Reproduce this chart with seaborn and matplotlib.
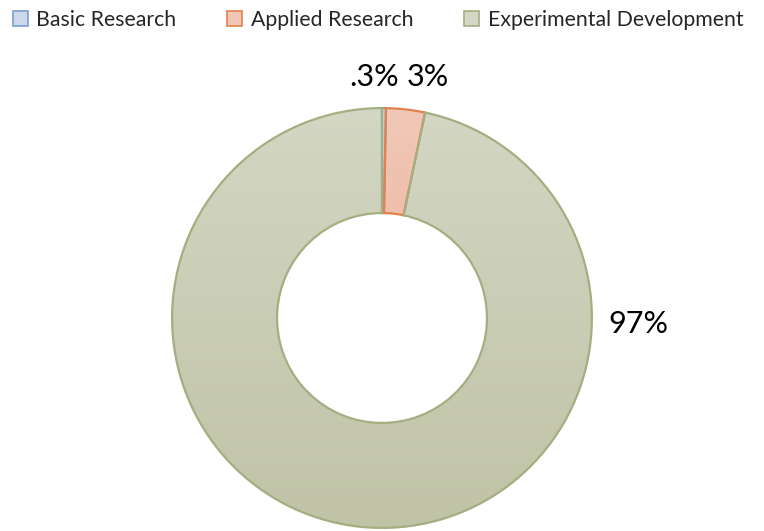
import matplotlib
matplotlib.use("Agg")
import matplotlib.pyplot as plt
import matplotlib.patches as mpatches
from matplotlib.colors import LinearSegmentedColormap
import numpy as np
import seaborn as sns

# %%
categories = ["Basic Research", "Applied Research", "Experimental Development"]
shares = [0.3, 3, 97]
share_labels = [".3%", "3%", "97%"]

fill_top = ["#cbd9eb", "#f1c8b7", "#d3d7c3"]
fill_bottom = ["#b3c7e1", "#e9a48a", "#c0c3a6"]
edge_colors = ["#7b9fcd", "#e3804c", "#a4ae80"]

# where each value label sits (axes data units, pie radius = 1)
label_pos = [(-0.04, 1.15), (0.22, 1.15), (1.22, -0.03)]

# %%
sns.set_theme(style="white")
plt.rcParams["font.family"] = ["Lato", "DejaVu Sans"]

fig = plt.figure(figsize=(7.64, 5.31), dpi=100)
ax = fig.add_axes([170 / 764, 1 / 531, 424 / 764, 424 / 531])

wedges, _ = ax.pie(
    shares,
    startangle=90,
    counterclock=False,
    radius=1,
    wedgeprops=dict(width=0.5, linewidth=1.6),
    colors=fill_bottom,
)

grad = np.linspace(0, 1, 256).reshape(-1, 1)
for w, top, bot, ec in zip(wedges, fill_top, fill_bottom, edge_colors):
    w.set_edgecolor(ec)
    w.set_facecolor("none")
    cmap = LinearSegmentedColormap.from_list("g", [top, bot])
    im = ax.imshow(grad, cmap=cmap, extent=(-1, 1, -1, 1), aspect="auto",
                   origin="upper", zorder=w.get_zorder() - 0.1)
    im.set_clip_path(w)

ax.set_xlim(-1.01, 1.01)
ax.set_ylim(-1.01, 1.01)
ax.set_aspect("equal")
ax.axis("off")

for txt, (x, y) in zip(share_labels, label_pos):
    ax.text(x, y, txt, ha="center", va="center", fontsize=22, color="black")

handles = [
    mpatches.Patch(facecolor=fc, edgecolor=ec, linewidth=1.2, label=c)
    for c, fc, ec in zip(categories, fill_top, edge_colors)
]
fig.legend(
    handles=handles,
    loc="upper left",
    bbox_to_anchor=(0.0, 1.005),
    ncol=3,
    frameon=False,
    fontsize=15.3,
    handlelength=0.7,
    handleheight=0.7,
    handletextpad=0.4,
    columnspacing=2.4,
    borderaxespad=0.2,
)

fig.savefig("out.png", dpi=100)
